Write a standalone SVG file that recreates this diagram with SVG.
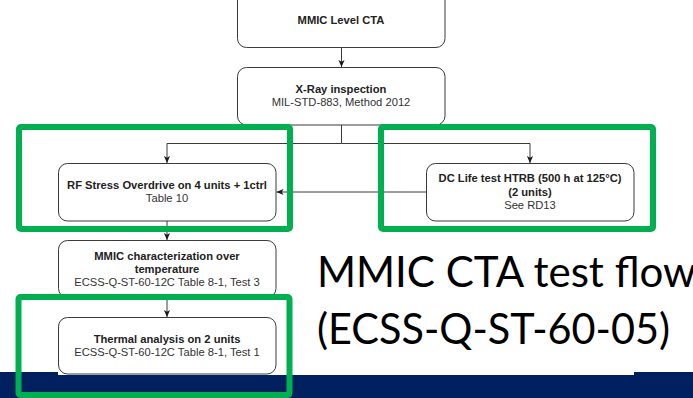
<svg xmlns="http://www.w3.org/2000/svg" width="693" height="398" viewBox="0 0 693 398">
  <style>
    .box { fill: #ffffff; stroke: #3a3a3a; stroke-width: 1; }
    .hl { fill: none; stroke: #00b050; stroke-width: 6; }
    .conn { fill: none; stroke: #3a3a3a; stroke-width: 1; }
    .t { font-family: "Liberation Sans", Arial, sans-serif; font-size: 11.2px; text-anchor: middle; fill: #333333; }
    .b { font-weight: bold; fill: #222222; }
    .title { font-family: Lato, "Open Sans", sans-serif; font-size: 42px; fill: #000000; }
  </style>
  <defs>
    <marker id="arr" viewBox="0 0 8 8" refX="8" refY="4" markerWidth="7" markerHeight="7" orient="auto" markerUnits="userSpaceOnUse">
      <path d="M0,0.5 L8,4 L0,7.5 L2,4 z" fill="#1a1a1a"/>
    </marker>
  </defs>

  <rect x="0" y="0" width="693" height="398" fill="#ffffff"/>

  <!-- footer band -->
  <rect x="0" y="372" width="693" height="26" fill="#002060"/>
  <rect x="58" y="368" width="576" height="7" fill="#ffffff"/>

  <!-- connectors -->
  <g id="connectors">
    <path class="conn" d="M341.5,47.5 V67" marker-end="url(#arr)"/>
    <path class="conn" d="M341.5,125 V143.5 H167 V163" marker-end="url(#arr)"/>
    <path class="conn" d="M341.5,143.5 H530 V163" marker-end="url(#arr)"/>
    <path class="conn" d="M426,192 H276.5" marker-end="url(#arr)"/>
    <path class="conn" d="M167,221 V240" marker-end="url(#arr)"/>
    <path class="conn" d="M167,297 V317" marker-end="url(#arr)"/>
  </g>

  <g id="cta">
    <rect class="box" x="237.5" y="-11" width="207.5" height="58.5" rx="9"/>
    <text class="t b" x="341" y="24">MMIC Level CTA</text>
  </g>

  <g id="xray">
    <rect class="box" x="237.5" y="67.5" width="207.5" height="57.5" rx="9"/>
    <text class="t b" x="341" y="93">X-Ray inspection</text>
    <text class="t" x="341" y="106">MIL-STD-883, Method 2012</text>
  </g>

  <g id="rfstress">
    <rect class="box" x="58.5" y="163.5" width="217.5" height="57.5" rx="9"/>
    <text class="t b" x="167" y="189">RF Stress Overdrive on 4 units + 1ctrl</text>
    <text class="t" x="167" y="202">Table 10</text>
  </g>

  <g id="dclife">
    <rect class="box" x="426.5" y="163.5" width="207.5" height="57.5" rx="9"/>
    <text class="t b" x="530" y="182">DC Life test HTRB (500 h at 125°C)</text>
    <text class="t b" x="530" y="195.5">(2 units)</text>
    <text class="t" x="530" y="209">See RD13</text>
  </g>

  <g id="characterization">
    <rect class="box" x="58.5" y="240.5" width="217.5" height="57" rx="9"/>
    <text class="t b" x="167" y="259.5">MMIC characterization over</text>
    <text class="t b" x="167" y="272.5">temperature</text>
    <text class="t" x="167" y="286">ECSS-Q-ST-60-12C Table 8-1, Test 3</text>
  </g>

  <g id="thermal">
    <rect class="box" x="58.5" y="317.5" width="217.5" height="56.5" rx="9"/>
    <text class="t b" x="167" y="342.5">Thermal analysis on 2 units</text>
    <text class="t" x="167" y="356">ECSS-Q-ST-60-12C Table 8-1, Test 1</text>
  </g>

  <!-- highlight frames -->
  <g id="highlights">
    <rect class="hl" x="19" y="127" width="271" height="102" rx="2"/>
    <rect class="hl" x="381" y="127" width="272" height="102" rx="2"/>
    <rect class="hl" x="18.5" y="297" width="271" height="98" rx="2"/>
  </g>

  <!-- title -->
  <g id="title">
    <text class="title" x="317" y="287" textLength="379" lengthAdjust="spacingAndGlyphs">MMIC CTA test flow</text>
    <text class="title" x="317" y="344" textLength="353" lengthAdjust="spacingAndGlyphs">(ECSS-Q-ST-60-05)</text>
  </g>
</svg>
